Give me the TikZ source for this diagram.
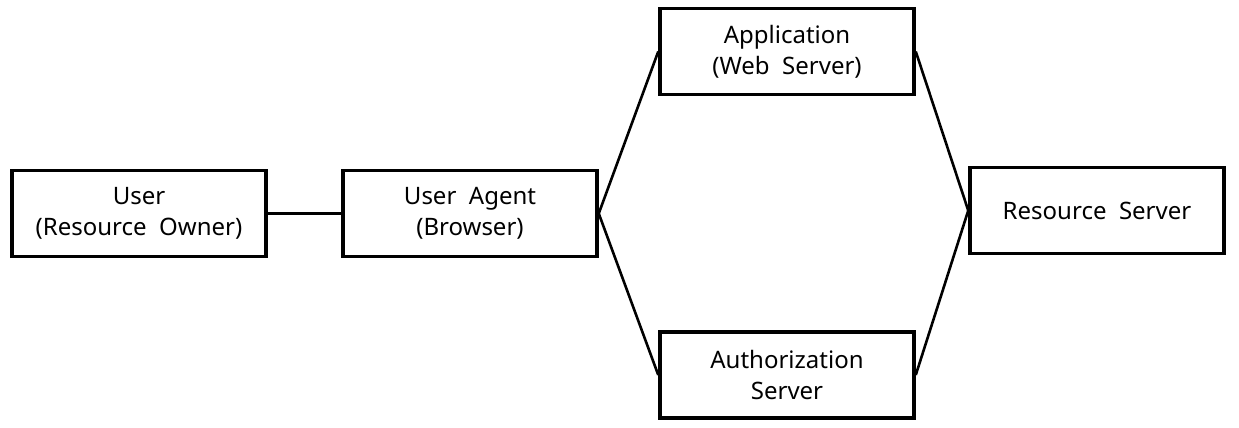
\documentclass[tikz,border=0pt]{standalone}
\usepackage{fontspec}
\setmainfont{Noto Sans}
\begin{document}
\begin{tikzpicture}[x=1pt,y=-1pt,
  box/.style={draw,line width=3.5pt,minimum width=254pt,minimum height=86pt,align=center,inner sep=0pt,
    font=\fontsize{24}{31}\selectfont},
  link/.style={line width=2.6pt}]
\useasboundingbox[fill=white] (0,0) rectangle (1239,428);
\node[box] (user) at (139,213.5) {User\\(Resource\ \ Owner)};
\node[box] (ua) at (470,213.5) {User\ \ Agent\\(Browser)};
\node[box] (app) at (787,51.5) {Application\\(Web\ \ Server)};
\node[box] (auth) at (787,375) {Authorization\\Server};
\node[box] (rs) at (1097,210.5) {Resource\ \ Server};
\draw[link] (user.east) -- (ua.west);
\draw[link] (ua.east) -- (app.west);
\draw[link] (ua.east) -- (auth.west);
\draw[link] (app.east) -- (rs.west);
\draw[link] (auth.east) -- (rs.west);
\end{tikzpicture}
\end{document}
